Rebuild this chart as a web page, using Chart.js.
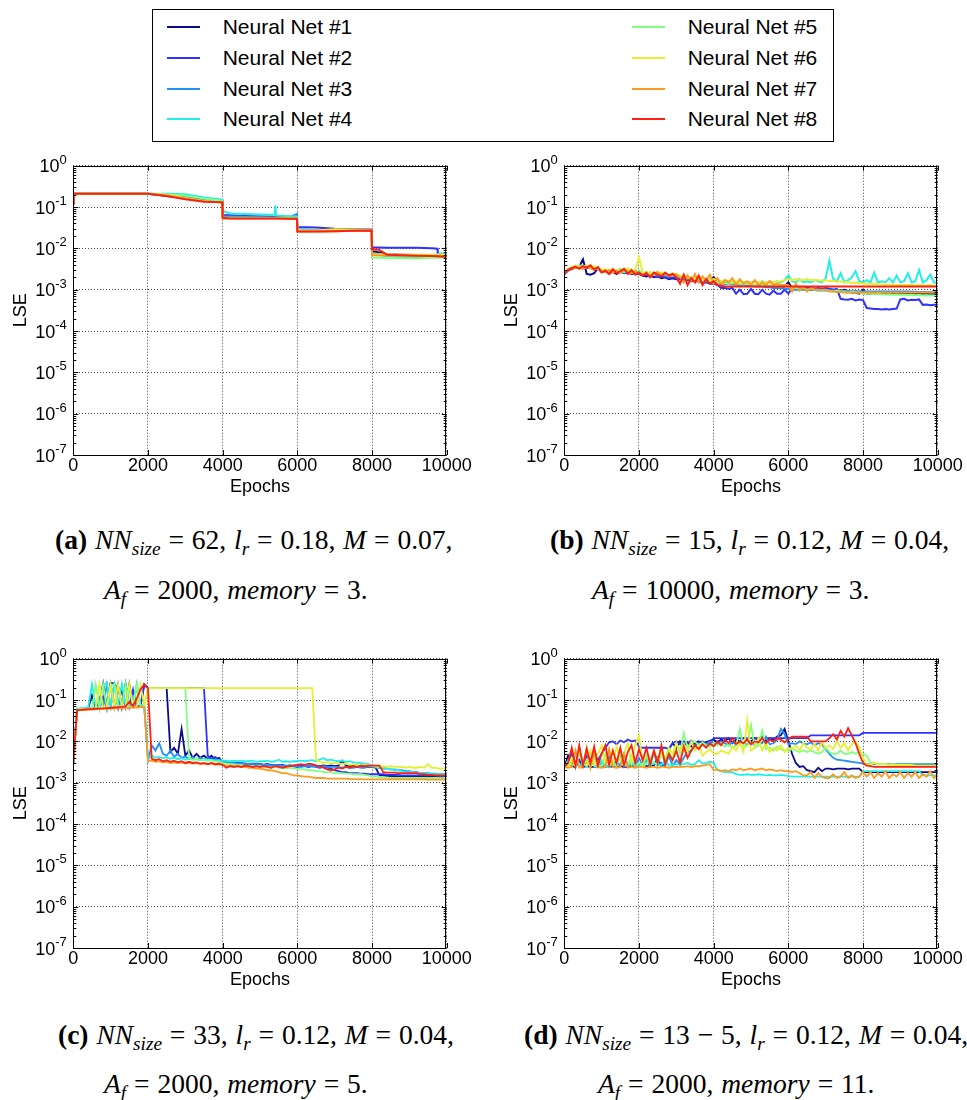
<!DOCTYPE html>
<html>
<head>
<meta charset="utf-8">
<script src="https://cdn.jsdelivr.net/npm/chart.js@4.4.1/dist/chart.umd.min.js"></script>
<style>
	body { margin:0; width:967px; height:1100px; position:relative; overflow:hidden; background:#fff; font-family:'Liberation Sans', Arial, sans-serif; }
	canvas { position:absolute; }
	#legend-box { position:absolute; left:152px; top:9px; width:680px; height:131px; border:1px solid #000; }
	.leg-item { position:absolute; height:24px; }
	.leg-line { position:absolute; left:0; top:11px; width:33px; height:2px; }
	.leg-text { position:absolute; top:0; line-height:24px; font-size:21px; white-space:nowrap; color:#000; }
	.cap { position:absolute; font-family:'Liberation Serif', 'Times New Roman', serif; font-size:27.5px; line-height:32px; word-spacing:1px; white-space:nowrap; color:#000; }
	.cap sub { font-size:0.7em; vertical-align:-0.3em; line-height:0; }
</style>
</head>
<body>

<div id="legend-box"></div>

<canvas id="plot_a" width="476" height="350" style="left:0;top:150px"></canvas>
<canvas id="plot_b" width="476" height="350" style="left:491px;top:150px"></canvas>
<canvas id="plot_c" width="476" height="350" style="left:0;top:643px"></canvas>
<canvas id="plot_d" width="476" height="350" style="left:491px;top:643px"></canvas>

<div class="cap" style="left:55px;top:524px"><b>(a)</b> <i>NN</i><sub><i>size</i></sub> = 62, <i>l</i><sub><i>r</i></sub> = 0.18, <i>M</i> = 0.07,</div>
<div class="cap" style="left:104px;top:574px"><i>A</i><sub><i>f</i></sub> = 2000, <i>memory</i> = 3.</div>
<div class="cap" style="left:550px;top:524px"><b>(b)</b> <i>NN</i><sub><i>size</i></sub> = 15, <i>l</i><sub><i>r</i></sub> = 0.12, <i>M</i> = 0.04,</div>
<div class="cap" style="left:592px;top:574px"><i>A</i><sub><i>f</i></sub> = 10000, <i>memory</i> = 3.</div>
<div class="cap" style="left:58px;top:1019px"><b>(c)</b> <i>NN</i><sub><i>size</i></sub> = 33, <i>l</i><sub><i>r</i></sub> = 0.12, <i>M</i> = 0.04,</div>
<div class="cap" style="left:104px;top:1068px"><i>A</i><sub><i>f</i></sub> = 2000, <i>memory</i> = 5.</div>
<div class="cap" style="left:524px;top:1019px"><b>(d)</b> <i>NN</i><sub><i>size</i></sub> = 13 − 5, <i>l</i><sub><i>r</i></sub> = 0.12, <i>M</i> = 0.04,</div>
<div class="cap" style="left:598px;top:1068px"><i>A</i><sub><i>f</i></sub> = 2000, <i>memory</i> = 11.</div>

<script>
// all LSE values below are in units of 1e-3
const MILLI = 1e-3

const NET_NAMES = ['Neural Net #1', 'Neural Net #2', 'Neural Net #3', 'Neural Net #4', 'Neural Net #5', 'Neural Net #6', 'Neural Net #7', 'Neural Net #8']
const NET_COLORS = ['#0a0a8c', '#3030ff', '#2090ff', '#20f0e8', '#80ff80', '#e6f030', '#ff9a20', '#ff2010']

const DECADES = [1, 1e-1, 1e-2, 1e-3, 1e-4, 1e-5, 1e-6, 1e-7]
const EPOCH_TICKS = [0, 2000, 4000, 6000, 8000, 10000]

// (a) breakpoints
const EPOCHS_A = [0, 10, 2000, 2500, 3000, 3500, 3990, 4000, 4200, 4600, 5000, 5390, 5410, 5430, 5800, 5990, 6000, 6500, 7000, 7500, 7990, 8000, 8200, 8400, 8800, 9200, 9600, 9750, 9760, 10000]
const lseA1 = [120, 210, 210, 190, 170, 150, 140, 62, 62, 60, 58, 57, 57, 57, 56, 55, 28, 28, 27.5, 27, 27, 8.5, 8, 7.2, 7, 6.9, 6.8, 6.8, 6.7, 6.6]
const lseA2 = [120, 210, 210, 185, 165, 148, 140, 62, 62, 60, 59, 58, 58, 58, 58, 57, 33, 32, 30, 29, 28.5, 10.5, 10.5, 10.3, 10.4, 10.3, 10, 9.8, 7.5, 7.2]
const lseA3 = [120, 210, 210, 195, 175, 155, 145, 60, 59, 58, 57, 56, 56, 56, 56, 68, 29, 28, 27, 27, 27, 8, 7, 6.5, 6.3, 6.2, 6.2, 6.2, 6.2, 6.5]
const lseA4 = [120, 210, 210, 210, 205, 170, 150, 80, 70, 68, 66, 65, 110, 62, 60, 58, 27, 27, 27, 27, 27, 7, 6.8, 6.6, 6.5, 6.5, 6.6, 6.8, 7.2, 7.5]
const lseA5 = [120, 210, 210, 200, 190, 160, 140, 56, 55, 55, 54, 54, 54, 54, 54, 53, 26, 26, 26, 26.5, 26.5, 6, 5.9, 5.8, 5.8, 5.8, 5.9, 5.9, 5.9, 6]
const lseA6 = [120, 210, 210, 195, 165, 140, 130, 54, 54, 54, 54, 54, 54, 54, 53, 53, 27, 27, 29, 28.5, 28, 7.2, 7.2, 7.1, 7, 7, 7, 7, 7, 7]
const lseA7 = [120, 210, 210, 190, 160, 138, 128, 53, 53, 53, 53, 53, 53, 53, 52, 52, 25.5, 25.5, 26, 26.5, 27, 6.8, 6.8, 6.7, 6.7, 6.6, 6.6, 6.6, 6.6, 6.6]
const lseA8 = [120, 210, 210, 185, 155, 135, 130, 55, 53, 53, 53, 53, 53, 53, 52, 52, 25.5, 25.5, 26, 26.5, 27, 9.5, 9.2, 7, 6.8, 6.6, 6.5, 6.4, 6.4, 6.2]

// (b), (c), (d) sampled every 100 epochs
const EPOCHS = Array.from({ length:101 }, (_, i) => i * 100)

const lseB1 = [2.4, 2.9, 3.2, 3.4, 3.6, 5.4, 2.4, 2.3, 2.5, 3.3, 2.7,
	2.9, 2.5, 2.7, 2.4, 2.8, 2.5, 2.6, 2.4, 2.5, 2.4,
	2.2, 2.1, 2.2, 2.0, 2.1, 1.9, 2.0, 1.8, 1.9, 1.8,
	1.9, 1.7, 1.8, 1.6, 1.8, 1.7, 1.9, 1.6, 1.7, 2.0,
	1.5, 1.6, 1.4, 1.5, 1.4, 1.3, 1.4, 1.3, 1.35, 1.3,
	1.3, 1.25, 1.3, 1.25, 1.2, 1.25, 1.2, 1.2, 1.2, 1.5,
	1.1, 1.1, 1.1, 1.05, 1.1, 1.05, 1.05, 1.0, 1.05, 1.0,
	1.0, 1.0, 0.95, 0.95, 1.0, 0.9, 0.85, 0.85, 0.8, 1.0,
	0.8, 0.8, 0.8, 0.8, 0.8, 0.8, 0.8, 0.8, 0.8, 0.8,
	0.8, 0.8, 0.8, 0.8, 0.8, 0.8, 0.8, 0.8, 0.8, 0.8]
const lseB2 = [2.4, 3.0, 3.3, 3.5, 3.4, 3.6, 3.3, 3.5, 3.2, 3.3, 2.7,
	2.8, 2.5, 2.9, 2.6, 2.8, 2.5, 2.7, 2.6, 2.5, 2.5,
	2.2, 2.3, 2.1, 2.2, 2.0, 2.1, 2.0, 1.9, 2.0, 1.9,
	1.8, 1.8, 1.7, 1.7, 1.6, 1.6, 1.5, 1.5, 1.4, 1.4,
	1.3, 1.1, 1.1, 1.05, 1.1, 0.8, 1.0, 0.78, 0.8, 1.05,
	0.8, 0.78, 1.0, 0.8, 0.76, 0.95, 0.8, 0.8, 1.0, 0.8,
	1.1, 1.1, 1.1, 1.05, 1.1, 1.1, 1.05, 1.1, 1.05, 1.1,
	1.05, 1.0, 1.05, 0.6, 0.58, 0.57, 0.6, 0.55, 0.58, 0.56,
	0.36, 0.35, 0.34, 0.34, 0.33, 0.34, 0.33, 0.34, 0.35, 0.58,
	0.6, 0.55, 0.57, 0.56, 0.58, 0.43, 0.44, 0.42, 0.43, 0.43]
const lseB3 = [2.5, 3.0, 3.5, 3.4, 3.6, 3.3, 3.5, 3.4, 3.2, 3.3, 2.8,
	2.9, 2.6, 3.0, 2.7, 2.9, 2.6, 2.8, 2.6, 2.7, 2.6,
	2.4, 2.5, 2.3, 2.4, 2.2, 2.3, 2.2, 2.1, 2.2, 2.1,
	2.0, 1.9, 1.9, 1.8, 1.8, 1.7, 1.7, 1.6, 1.6, 1.5,
	1.5, 1.45, 1.4, 1.4, 1.35, 1.35, 1.3, 1.3, 1.25, 1.25,
	1.2, 1.2, 1.2, 1.15, 1.15, 1.1, 1.1, 1.1, 1.05, 1.05,
	1.0, 1.0, 1.0, 1.0, 1.0, 0.98, 0.98, 0.96, 0.96, 0.95,
	0.95, 0.95, 0.94, 0.94, 0.93, 0.93, 0.92, 0.92, 0.92, 0.91,
	0.9, 0.9, 0.9, 0.9, 0.9, 0.9, 0.9, 0.9, 0.9, 0.9,
	0.9, 0.9, 0.89, 0.89, 0.88, 0.88, 0.88, 0.87, 0.87, 0.87]
const lseB4 = [2.4, 3.1, 3.3, 3.7, 3.4, 3.8, 3.5, 3.6, 3.3, 3.4, 3.0,
	2.8, 3.0, 2.7, 2.9, 3.1, 2.6, 2.9, 2.7, 2.8, 2.9,
	2.4, 2.6, 2.3, 2.5, 2.4, 2.2, 2.4, 2.3, 2.2, 2.3,
	2.0, 2.1, 1.9, 2.0, 1.8, 1.9, 1.8, 1.7, 1.8, 1.7,
	1.6, 1.55, 1.6, 1.5, 1.55, 1.5, 1.6, 1.5, 1.55, 1.5,
	1.55, 1.5, 1.6, 1.5, 1.55, 1.5, 1.6, 1.5, 1.7, 2.2,
	1.6, 1.5, 1.8, 1.5, 1.6, 1.5, 1.7, 1.6, 1.5, 1.9,
	5.0, 1.8, 1.6, 2.5, 1.5, 1.7, 2.0, 2.8, 1.6, 1.5,
	1.7, 1.5, 2.6, 1.5, 1.6, 1.5, 1.9, 1.5, 2.2, 1.5,
	1.6, 2.5, 1.5, 1.6, 3.0, 1.5, 1.7, 2.3, 1.5, 1.4]
const lseB5 = [2.4, 3.0, 3.4, 3.5, 3.9, 3.3, 3.6, 3.8, 3.4, 3.2, 2.9,
	3.0, 2.7, 3.1, 2.8, 3.2, 2.7, 3.0, 2.9, 2.6, 2.8,
	2.5, 2.7, 2.4, 2.6, 2.3, 2.5, 2.4, 2.3, 2.2, 2.2,
	2.1, 2.0, 1.9, 2.0, 1.8, 1.9, 1.7, 1.8, 1.6, 1.6,
	1.5, 1.5, 1.45, 1.4, 1.45, 1.4, 1.4, 1.35, 1.4, 1.35,
	1.3, 1.35, 1.3, 1.3, 1.25, 1.3, 1.25, 1.2, 1.25, 1.2,
	1.1, 1.1, 1.05, 1.1, 1.0, 1.05, 1.0, 1.0, 0.95, 1.0,
	0.95, 0.9, 0.95, 0.9, 0.9, 0.85, 0.9, 0.85, 0.85, 0.8,
	0.8, 0.8, 0.78, 0.8, 0.78, 0.76, 0.78, 0.75, 0.76, 0.75,
	0.75, 0.74, 0.75, 0.73, 0.74, 0.72, 0.73, 0.72, 0.72, 0.72]
const lseB6 = [2.5, 3.2, 3.5, 3.8, 3.4, 3.6, 3.9, 3.5, 3.7, 3.3, 3.0,
	3.1, 2.8, 3.2, 2.7, 3.0, 2.9, 3.3, 2.8, 3.0, 6.0,
	2.6, 2.4, 2.7, 2.3, 2.5, 2.6, 2.4, 2.2, 2.5, 2.3,
	2.2, 2.0, 2.1, 1.9, 2.0, 1.8, 1.9, 1.8, 1.7, 1.8,
	1.7, 1.6, 1.7, 1.6, 1.55, 1.6, 1.5, 1.55, 1.5, 1.5,
	1.5, 1.5, 1.55, 1.5, 1.6, 1.5, 1.55, 1.6, 1.7, 1.8,
	1.7, 1.8, 1.75, 1.7, 1.8, 1.7, 1.75, 1.7, 1.65, 1.7,
	1.6, 1.65, 1.55, 1.6, 1.5, 1.55, 1.45, 1.5, 1.45, 1.4,
	1.4, 1.35, 1.4, 1.35, 1.35, 1.3, 1.35, 1.3, 1.3, 1.3,
	1.3, 1.3, 1.3, 1.3, 1.25, 1.3, 1.25, 1.3, 1.25, 1.25]
const lseB7 = [2.5, 3.1, 3.4, 3.3, 3.5, 3.2, 3.6, 3.3, 3.0, 3.4, 2.8,
	2.7, 3.0, 2.6, 2.9, 2.5, 3.1, 2.7, 2.5, 2.8, 2.5,
	2.3, 2.6, 2.1, 2.4, 2.7, 2.2, 2.5, 2.1, 2.3, 2.4,
	2.0, 1.5, 2.2, 1.6, 2.4, 1.5, 2.1, 1.7, 2.3, 1.4,
	1.9, 1.3, 1.7, 1.5, 1.9, 1.3, 1.8, 1.4, 1.6, 1.3,
	1.7, 1.3, 1.5, 1.3, 1.6, 1.3, 1.4, 1.3, 1.3, 1.3,
	0.9, 1.4, 0.95, 1.2, 0.9, 1.1, 1.0, 1.0, 1.0, 1.0,
	0.9, 0.9, 0.88, 0.88, 0.85, 0.85, 0.85, 0.85, 0.85, 0.85,
	0.85, 0.85, 0.85, 0.85, 0.85, 0.85, 0.85, 0.85, 0.85, 0.85,
	0.85, 0.85, 0.85, 0.85, 0.85, 0.85, 0.85, 0.85, 0.85, 0.85]
const lseB8 = [2.4, 3.0, 3.3, 3.6, 3.2, 3.7, 3.4, 3.9, 3.1, 3.5, 2.6,
	2.9, 2.4, 3.1, 2.5, 2.8, 3.2, 2.4, 3.0, 2.3, 2.6,
	2.2, 2.5, 2.0, 2.6, 2.3, 2.1, 2.6, 2.2, 2.4, 2.0,
	1.4, 2.3, 1.3, 1.9, 1.5, 2.2, 1.3, 1.8, 1.4, 1.6,
	1.3, 1.25, 1.2, 1.2, 1.2, 1.2, 1.2, 1.2, 1.2, 1.2,
	1.2, 1.2, 1.2, 1.2, 1.2, 1.2, 1.2, 1.2, 1.2, 1.2,
	1.2, 1.2, 1.2, 1.2, 1.2, 1.2, 1.2, 1.2, 1.2, 1.2,
	1.2, 1.2, 1.2, 1.2, 1.2, 1.2, 1.2, 1.2, 1.2, 1.2,
	1.2, 1.2, 1.2, 1.2, 1.2, 1.2, 1.2, 1.2, 1.2, 1.2,
	1.2, 1.2, 1.2, 1.2, 1.2, 1.2, 1.2, 1.2, 1.2, 1.2]

const lseC1 = [3, 60, 62, 61, 63, 130, 64, 90, 250, 66, 260,
	250, 68, 200, 70, 240, 68, 72, 70, 240, 195,
	195, 195, 195, 195, 195, 5.5, 7, 5, 20, 4.5,
	6, 4, 5, 4, 4.5, 3.8, 4.5, 3.6, 4, 3.2,
	3.0, 3.1, 2.9, 3.0, 2.8, 2.9, 2.8, 2.9, 2.7, 2.8,
	2.7, 2.8, 2.6, 2.7, 2.6, 2.7, 2.5, 2.6, 2.5, 2.4,
	2.6, 2.7, 2.6, 2.7, 2.6, 2.5, 2.6, 2.5, 2.6, 2.5,
	2.6, 3.4, 2.6, 2.5, 2.5, 2.4, 2.5, 2.4, 2.4, 2.4,
	2.3, 1.5, 1.5, 1.45, 1.45, 1.45, 1.4, 1.4, 1.4, 1.4,
	1.4, 1.4, 1.4, 1.4, 1.4, 1.4, 1.4, 1.4, 1.4, 1.4]
const lseC2 = [3, 59, 61, 62, 60, 63, 65, 64, 120, 66, 240,
	68, 230, 67, 240, 70, 180, 69, 71, 240, 195,
	195, 195, 195, 195, 195, 195, 195, 195, 195, 195,
	195, 195, 195, 195, 195, 4.5, 3.8, 4.2, 3.6, 3.3,
	3.1, 3.0, 3.1, 2.9, 3.0, 2.9, 2.8, 2.9, 2.8, 2.8,
	2.7, 2.8, 2.7, 2.6, 2.7, 2.6, 2.6, 2.5, 2.6, 2.5,
	2.6, 2.5, 2.4, 2.5, 2.4, 2.3, 2.4, 2.3, 2.2, 2.0,
	1.9, 1.8, 1.8, 1.7, 1.7, 1.7, 1.65, 1.65, 1.6, 1.6,
	1.6, 1.6, 1.6, 1.55, 1.55, 1.55, 1.55, 1.5, 1.5, 1.5,
	1.5, 1.5, 1.5, 1.5, 1.5, 1.5, 1.5, 1.45, 1.45, 1.45]
const lseC3 = [3, 60, 58, 62, 64, 61, 65, 110, 68, 240, 70,
	240, 200, 72, 250, 69, 71, 240, 73, 70, 3.5,
	8, 6, 9, 5, 4.5, 6, 4.2, 5, 4, 4.3,
	3.8, 4.2, 3.7, 4, 3.6, 3.9, 3.5, 3.7, 3.4, 3.2,
	3.1, 3.0, 3.0, 2.9, 2.9, 2.8, 2.9, 2.8, 2.7, 2.8,
	2.7, 2.7, 2.6, 2.7, 2.6, 2.6, 2.5, 2.6, 2.5, 2.5,
	2.4, 2.5, 2.6, 2.5, 2.5, 2.4, 2.5, 2.4, 2.4, 2.4,
	2.4, 2.3, 2.4, 2.3, 2.3, 2.4, 2.3, 2.3, 2.5, 2.4,
	2.3, 2.3, 2.2, 2.2, 2.1, 2.1, 2.0, 2.0, 1.9, 1.9,
	1.8, 1.8, 1.7, 1.7, 1.7, 1.65, 1.65, 1.6, 1.6, 1.6]
const lseC4 = [3, 62, 64, 63, 66, 240, 68, 70, 240, 245, 72,
	240, 74, 240, 73, 200, 75, 240, 74, 76, 3.8,
	4.5, 4, 4.2, 3.9, 4.1, 3.8, 4, 3.7, 3.9, 3.6,
	3.8, 3.6, 3.7, 3.5, 3.7, 3.5, 3.6, 3.4, 3.5, 3.4,
	3.4, 3.3, 3.4, 3.3, 3.4, 3.3, 3.3, 3.4, 3.2, 3.3,
	3.3, 3.4, 3.2, 3.3, 3.6, 3.2, 3.3, 3.2, 3.3, 3.3,
	3.4, 3.3, 3.4, 3.5, 3.3, 3.6, 3.9, 3.5, 3.6, 3.4,
	3.3, 3.4, 3.2, 3.3, 3.1, 3.0, 3.0, 2.9, 2.8, 2.6,
	2.4, 2.3, 2.3, 2.2, 2.1, 2.0, 2.0, 1.9, 1.8, 1.8,
	1.8, 1.7, 1.7, 1.7, 1.65, 1.6, 1.6, 1.6, 1.55, 1.55]
const lseC5 = [3, 58, 60, 61, 62, 60, 240, 63, 240, 64, 230,
	240, 66, 65, 240, 67, 68, 240, 69, 68, 195,
	195, 195, 195, 195, 195, 195, 195, 195, 195, 195,
	4, 3.6, 3.8, 3.5, 3.6, 3.4, 3.5, 3.3, 3.2, 3.0,
	2.9, 2.8, 2.8, 2.7, 2.7, 2.6, 2.6, 2.5, 2.5, 2.5,
	2.4, 2.4, 2.3, 2.4, 2.3, 2.3, 2.2, 2.3, 2.2, 2.2,
	2.1, 2.1, 2.0, 2.0, 1.9, 1.9, 1.8, 1.8, 1.8, 1.7,
	1.7, 1.7, 1.65, 1.65, 1.6, 1.6, 1.6, 1.55, 1.5, 1.4,
	1.4, 1.35, 1.35, 1.35, 1.3, 1.3, 1.3, 1.3, 1.3, 1.3,
	1.3, 1.3, 1.3, 1.3, 1.3, 1.3, 1.3, 1.28, 1.28, 1.28]
const lseC6 = [3, 57, 59, 60, 61, 62, 63, 240, 64, 65, 240,
	66, 240, 67, 68, 240, 69, 70, 240, 71, 195,
	195, 195, 195, 195, 195, 195, 195, 195, 195, 195,
	195, 195, 195, 195, 195, 195, 195, 195, 195, 195,
	195, 195, 195, 195, 195, 195, 195, 195, 195, 195,
	195, 195, 195, 195, 195, 195, 195, 195, 195, 195,
	195, 195, 195, 195, 3.5, 3.2, 3.0, 3.1, 2.9, 3.0,
	2.9, 2.8, 2.9, 2.7, 2.8, 2.7, 2.6, 2.7, 2.6, 2.6,
	2.5, 2.5, 2.5, 2.4, 2.5, 2.4, 2.4, 2.4, 2.3, 2.4,
	2.3, 2.3, 2.4, 2.3, 2.8, 2.3, 2.3, 2.2, 2.2, 2.2]
const lseC7 = [3, 56, 57, 58, 58, 59, 60, 60, 61, 62, 62,
	63, 63, 64, 64, 65, 66, 66, 67, 68, 3.3,
	3.4, 3.2, 3.3, 3.1, 3.2, 3.0, 3.1, 3.0, 3.1, 2.9,
	3.0, 2.9, 3.0, 2.8, 2.9, 2.8, 2.9, 2.7, 2.8, 2.7,
	2.6, 2.6, 2.5, 2.5, 2.4, 2.4, 2.3, 2.3, 2.2, 2.2,
	2.1, 2.0, 2.0, 1.9, 1.8, 1.7, 1.7, 1.6, 1.5, 1.5,
	1.45, 1.4, 1.4, 1.35, 1.3, 1.3, 1.3, 1.25, 1.25, 1.25,
	1.25, 1.25, 1.25, 1.22, 1.22, 1.22, 1.22, 1.2, 1.2, 1.2,
	1.2, 1.2, 1.2, 1.2, 1.2, 1.2, 1.2, 1.2, 1.2, 1.2,
	1.2, 1.2, 1.2, 1.2, 1.18, 1.18, 1.18, 1.18, 1.18, 1.18]
const lseC8 = [3, 57, 58, 59, 60, 60, 61, 62, 63, 64, 65,
	66, 67, 68, 70, 90, 72, 110, 180, 240, 195,
	3.8, 3.5, 3.7, 3.3, 3.5, 3.2, 3.4, 3.1, 3.3, 3.0,
	3.2, 3.0, 3.1, 2.9, 3.0, 2.8, 3.0, 2.8, 2.9, 2.7,
	2.3, 2.5, 2.4, 2.5, 2.4, 2.6, 2.5, 2.4, 2.5, 2.4,
	2.5, 2.4, 2.3, 2.5, 2.4, 2.3, 2.4, 2.5, 2.6, 2.7,
	2.8, 2.7, 2.9, 2.8, 2.6, 2.5, 2.3, 2.1, 2.0, 2.1,
	2.3, 2.2, 2.4, 2.3, 2.5, 2.4, 2.6, 2.5, 2.6, 2.6,
	2.6, 2.6, 1.8, 1.75, 1.75, 1.75, 1.7, 1.7, 1.7, 1.7,
	1.7, 1.7, 1.6, 1.6, 1.55, 1.55, 1.5, 1.5, 1.5, 1.5]

const lseD1 = [2.4, 4.5, 2.5, 2.4, 3.5, 2.4, 2.5, 2.4, 2.4, 2.5, 2.4,
	2.4, 2.5, 2.4, 2.4, 2.5, 2.4, 2.4, 2.5, 2.4, 2.5,
	3.0, 2.5, 2.5, 2.6, 4.0, 2.5, 2.6, 6.5, 9.0, 7.0,
	10, 8.0, 9.5, 7.5, 9.0, 10, 8.5, 9.5, 10.5, 11,
	9.5, 11, 10, 12, 9, 11, 10, 12, 11, 10,
	12, 11, 13, 10, 12, 11, 13, 14, 20, 10,
	5, 3, 2.4, 2.5, 2.0, 1.9, 1.8, 2.3, 1.9, 2.2,
	2.2, 2.1, 2.2, 2.2, 2.2, 2.1, 2.2, 2.2, 2.2, 1.8,
	1.8, 1.8, 1.8, 1.8, 1.8, 1.8, 1.8, 1.8, 1.8, 1.8,
	1.8, 1.8, 1.8, 1.8, 1.8, 1.8, 1.8, 1.8, 1.8, 1.8]
const lseD2 = [2.4, 3.0, 5.0, 2.5, 3.5, 2.6, 4.5, 3.0, 6.0, 3.5, 5.0,
	7.0, 9.5, 10, 8.5, 10.5, 9.5, 11, 10, 10.5, 7.5,
	7.0, 7.0, 7.0, 7.0, 7.0, 7.0, 7.0, 6.5, 9.0, 10,
	8.5, 10, 9.0, 10.5, 8.0, 9.5, 10, 9.0, 8.5, 12,
	12, 12, 12, 12, 12, 12, 12, 12, 12, 12,
	12, 12, 12, 12, 12, 12, 12, 12, 12, 12,
	12, 12, 12, 12, 12, 14, 14, 14, 14, 14,
	14, 14, 14, 14, 14, 14, 14, 14, 14, 16,
	16, 16, 16, 16, 16, 16, 16, 16, 16, 16,
	16, 16, 16, 16, 16, 16, 16, 16, 16, 16]
const lseD3 = [2.4, 2.6, 4.0, 2.5, 6.0, 2.5, 3.0, 2.5, 5.5, 2.6, 3.0,
	2.5, 4.5, 2.6, 3.5, 2.5, 5.0, 2.6, 3.0, 2.5, 4.0,
	2.6, 3.5, 2.5, 5.5, 2.6, 3.0, 2.5, 4.5, 2.6, 3.5,
	2.8, 4.0, 5.5, 6.0, 8.0, 7.0, 9.0, 8.5, 10, 9,
	8.5, 10, 9, 8, 9.5, 8.5, 10, 9, 8.5, 9.5,
	8, 10, 9, 13, 8.5, 9, 11, 20, 15, 8.5,
	9, 8.5, 10, 9, 8.5, 9.5, 8, 9, 8.5, 6.5,
	5, 4, 3.6, 3.5, 3.4, 3.3, 3.2, 3.1, 3.0, 2.9,
	2.8, 2.8, 2.8, 2.8, 2.8, 2.8, 2.8, 2.8, 2.8, 2.8,
	2.8, 2.8, 2.8, 2.8, 2.8, 2.8, 2.8, 2.8, 2.8, 2.8]
const lseD4 = [2.4, 3.5, 2.5, 5.0, 2.5, 3.0, 2.4, 4.0, 2.5, 2.4, 3.5,
	2.5, 2.4, 3.0, 2.5, 4.5, 2.5, 2.6, 3.0, 2.5, 2.6,
	2.5, 4.0, 2.6, 3.0, 2.6, 2.7, 3.5, 2.6, 2.7, 2.8,
	2.7, 2.8, 3.0, 2.7, 2.8, 3.5, 2.9, 3.0, 3.2, 3.0,
	2.0, 1.9, 1.8, 1.8, 1.8, 1.6, 1.55, 1.55, 1.6, 1.55,
	1.55, 1.6, 1.55, 1.5, 1.55, 1.5, 1.5, 1.55, 1.5, 1.45,
	1.4, 1.4, 1.4, 1.4, 1.4, 1.4, 1.4, 1.4, 1.4, 1.4,
	1.4, 1.4, 1.4, 1.4, 1.4, 1.4, 1.4, 1.4, 1.4, 1.9,
	1.9, 1.9, 1.9, 1.9, 1.9, 1.9, 1.9, 1.9, 1.9, 1.9,
	1.9, 1.9, 1.9, 1.9, 1.9, 1.5, 1.5, 1.5, 1.5, 1.5]
const lseD5 = [2.4, 2.5, 3.0, 2.5, 5.5, 2.6, 3.5, 2.5, 4.0, 2.6, 2.5,
	5.0, 2.6, 3.0, 2.5, 6.0, 2.6, 2.7, 4.5, 2.6, 3.0,
	2.6, 2.8, 4.0, 3.0, 2.8, 5.0, 3.0, 6.0, 3.5, 9.0,
	5.0, 16, 7.0, 9.0, 10, 8.0, 9.5, 8.0, 7.5, 9.0,
	8.0, 9.0, 7.5, 8.5, 7.0, 8.0, 20, 7.0, 8.0, 25,
	7.0, 8.0, 18, 6.5, 7.0, 6.0, 7.5, 6.5, 6.0, 6.0,
	6.5, 6.0, 5.5, 6.0, 5.5, 6.0, 5.5, 5.0, 5.5, 7.0,
	5.5, 5.0, 5.0, 6.0, 5.0, 5.0, 5.5, 5.0, 5.5, 5.0,
	4.5, 3.0, 3.0, 2.8, 2.9, 2.8, 2.7, 2.7, 2.6, 2.6,
	2.6, 2.6, 2.5, 2.5, 2.5, 2.5, 2.5, 2.5, 2.5, 2.5]
const lseD6 = [2.4, 2.5, 4.0, 2.5, 7.0, 3.0, 2.6, 6.0, 2.7, 5.0, 8.0,
	3.0, 6.5, 2.8, 7.5, 3.5, 5.0, 9.0, 3.0, 8.0, 14,
	3.0, 4.5, 3.0, 6.0, 3.5, 5.5, 4.0, 7.0, 5.0, 9.0,
	6.0, 8.5, 5.5, 10, 6.0, 8.0, 4.5, 5.5, 6.5, 5.0,
	5.0, 6.0, 5.5, 5.0, 7.5, 6.0, 9.0, 5.5, 33, 6.0,
	7.0, 12, 6.0, 9.0, 5.5, 7.0, 6.0, 8.0, 5.5, 7.0,
	6.5, 8.0, 6.0, 9.0, 7.0, 6.5, 8.5, 6.0, 9.5, 7.0,
	8.0, 6.5, 10, 7.0, 9.0, 6.0, 8.5, 10, 7.0, 4.0,
	2.8, 2.7, 3.0, 2.8, 2.9, 2.8, 2.7, 2.8, 2.7, 2.7,
	2.7, 2.7, 2.7, 2.6, 2.6, 2.6, 2.6, 2.6, 2.6, 2.6]
const lseD7 = [2.4, 2.3, 2.4, 6.0, 2.3, 2.4, 7.0, 2.3, 5.5, 2.4, 2.3,
	2.4, 6.5, 2.4, 2.3, 2.4, 5.0, 2.3, 2.4, 2.3, 2.4,
	2.4, 2.3, 2.4, 2.4, 2.3, 2.4, 2.4, 2.3, 2.4, 2.4,
	2.4, 2.4, 2.5, 2.4, 2.5, 2.5, 2.6, 2.7, 2.8, 2.0,
	2.1, 1.9, 2.0, 1.9, 2.1, 2.0, 2.2, 2.0, 2.1, 2.2,
	2.0, 2.1, 2.2, 2.0, 2.1, 2.0, 1.9, 2.0, 1.9, 1.9,
	1.8, 1.9, 1.7, 1.5, 1.5, 1.8, 1.3, 1.7, 1.4, 1.3,
	1.3, 1.6, 1.3, 1.4, 1.8, 1.3, 1.5, 1.3, 1.4, 1.8,
	1.4, 1.8, 1.3, 1.7, 1.4, 1.9, 1.3, 1.6, 1.4, 1.8,
	1.3, 1.7, 1.4, 1.8, 1.3, 1.6, 1.4, 1.9, 1.3, 1.6]
const lseD8 = [2.4, 3.0, 7.0, 2.5, 8.0, 2.6, 6.5, 3.0, 7.5, 2.6, 5.0,
	8.0, 2.7, 6.0, 3.0, 7.0, 2.6, 5.5, 8.0, 3.0, 6.5,
	3.5, 7.0, 2.8, 6.0, 3.0, 8.0, 2.8, 5.0, 3.5, 6.0,
	3.0, 7.5, 4.0, 6.0, 8.0, 6.5, 8.5, 7.0, 9.0, 7.5,
	10, 8, 11, 9, 12, 8.5, 10, 9, 11, 8.5,
	10, 9.5, 12, 9, 11, 10, 12, 11, 9.5, 11,
	13, 13, 13, 13, 13, 10, 10, 10, 10, 10,
	12, 15, 11, 18, 13, 21, 14, 9, 5, 3.0,
	2.6, 2.5, 2.4, 2.4, 2.4, 2.4, 2.4, 2.4, 2.4, 2.4,
	2.4, 2.4, 2.4, 2.4, 2.4, 2.4, 2.4, 2.4, 2.4, 2.4]


const FONT = "'Liberation Sans', Arial, Helvetica, sans-serif"
Chart.defaults.font.family = FONT
Chart.defaults.color = '#000'


// matlab style box, inward ticks and 10^n labels
const matlabAxes = {
	id:'matlabAxes',
	afterDatasetsDraw(chart){
		const { ctx, chartArea:{ left, right, top, bottom }, scales:{ x, y } } = chart
		ctx.save()
		ctx.strokeStyle = '#000'
		ctx.lineWidth = 1
		ctx.setLineDash([])
		ctx.beginPath()
		for(const t of x.ticks){
			const px = Math.round(x.getPixelForValue(t.value)) + 0.5
			ctx.moveTo(px, bottom); ctx.lineTo(px, bottom - 5)
			ctx.moveTo(px, top); ctx.lineTo(px, top + 5)
		}
		for(const d of DECADES){
			for(let m = 1; m < 10; m++){
				const v = d * m
				if(v > 1) break
				const py = Math.round(y.getPixelForValue(v)) + 0.5
				const len = m === 1 ? 5 : 3
				ctx.moveTo(left, py); ctx.lineTo(left + len, py)
				ctx.moveTo(right, py); ctx.lineTo(right - len, py)
			}
		}
		ctx.stroke()
		ctx.strokeRect(Math.round(left) + 0.5, Math.round(top) + 0.5, Math.round(right - left) - 1, Math.round(bottom - top))

		ctx.fillStyle = '#000'
		ctx.textAlign = 'right'
		ctx.textBaseline = 'alphabetic'
		for(const d of DECADES){
			const py = y.getPixelForValue(d)
			const exp = d === 1 ? '0' : '-' + Math.round(-Math.log10(d))
			ctx.font = `13px ${FONT}`
			const ew = ctx.measureText(exp).width
			const xr = left - 6.5
			ctx.fillText(exp, xr, py - 2)
			ctx.font = `18px ${FONT}`
			ctx.fillText('10', xr - ew, py + 6.5)
		}
		ctx.restore()
	}
}


function drawPlot(id, epochs, series, width){
	const datasets = series.map((vals, i) => ({
		label:NET_NAMES[i],
		data:vals.map((v, j) => ({ x:epochs[j], y:v * MILLI })),
		borderColor:NET_COLORS[i],
		backgroundColor:NET_COLORS[i],
		borderWidth:width,
		pointRadius:0,
		tension:0,
		fill:false,
		order:series.length - 1 - i
	}))

	return new Chart(document.getElementById(id), {
		type:'line',
		data:{ datasets },
		options:{
			responsive:false,
			animation:false,
			layout:{ padding:{ top:15.7, right:29.3, left:0, bottom:0 } },
			plugins:{
				legend:{ display:false },
				tooltip:{ enabled:false }
			},
			scales:{
				x:{
					type:'linear',
					min:0,
					max:10000,
					afterBuildTicks:scale => { scale.ticks = EPOCH_TICKS.map(v => ({ value:v })) },
					ticks:{ font:{ size:18 }, color:'#000', padding:0, maxRotation:0, autoSkip:false, callback:v => String(v) },
					grid:{ color:'#444', lineWidth:1, drawTicks:false },
					border:{ display:false, dash:[1, 2] },
					title:{ display:true, text:'Epochs', color:'#000', font:{ size:18 }, padding:{ top:0, bottom:2.5 } },
					afterFit:scale => { scale.height = 45 }
				},
				y:{
					type:'logarithmic',
					min:1e-7,
					max:1,
					afterBuildTicks:scale => { scale.ticks = DECADES.map(v => ({ value:v })) },
					ticks:{ display:false },
					grid:{ color:'#444', lineWidth:1, drawTicks:false },
					border:{ display:false, dash:[1, 2] },
					title:{ display:true, text:'LSE', color:'#000', font:{ size:18 }, padding:{ top:10, bottom:0 } },
					afterFit:scale => { scale.width = 73.3 }
				}
			}
		},
		plugins:[matlabAxes]
	})
}


drawPlot('plot_a', EPOCHS_A, [lseA1, lseA2, lseA3, lseA4, lseA5, lseA6, lseA7, lseA8], 2)
drawPlot('plot_b', EPOCHS, [lseB1, lseB2, lseB3, lseB4, lseB5, lseB6, lseB7, lseB8], 2)
drawPlot('plot_c', EPOCHS, [lseC1, lseC2, lseC3, lseC4, lseC5, lseC6, lseC7, lseC8], 1.8)
drawPlot('plot_d', EPOCHS, [lseD1, lseD2, lseD3, lseD4, lseD5, lseD6, lseD7, lseD8], 1.8)


// legend, two columns of four
NET_NAMES.forEach((name, i) => {
	const col = Math.floor(i / 4)
	const row = i % 4
	const item = document.createElement('div')
	item.className = 'leg-item'
	item.style.left = (col ? 631.7 : 166.7) + 'px'
	item.style.top = (26.7 + row * 30.9 - 12) + 'px'
	item.innerHTML = `<span class="leg-line" style="background:${NET_COLORS[i]}"></span><span class="leg-text" style="left:56px">${name}</span>`
	document.body.appendChild(item)
})
</script>
</body>
</html>
